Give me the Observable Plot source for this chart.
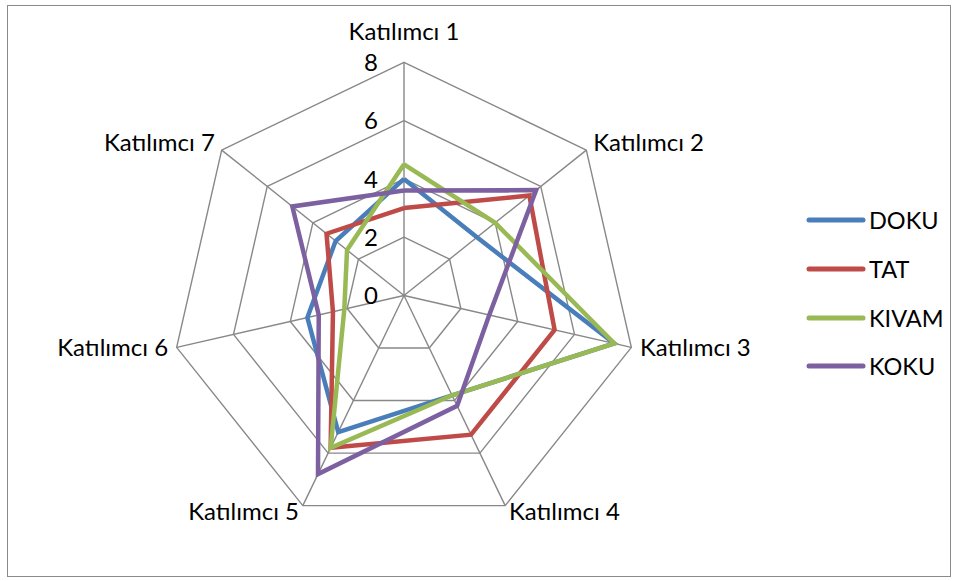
<!DOCTYPE html>
<html>
<head>
<meta charset="utf-8">
<script src="https://cdn.jsdelivr.net/npm/d3@7"></script>
<script src="https://cdn.jsdelivr.net/npm/@observablehq/plot@0.6"></script>
<style>
  body { margin: 0; background: #fff; }
  #chart { position: relative; width: 961px; height: 581px; font-family: Lato, "Noto Sans", sans-serif; }
  #chart svg.plot { position: absolute; left: 0; top: 0; }
  .frame { position: absolute; left: 7px; top: 5px; width: 944px; height: 572px; border: 1.5px solid #8a8a8a; box-sizing: border-box; }
  .legend { position: absolute; left: 806px; top: 196px; }
  .legend .row { display: flex; align-items: center; height: 48.7px; font-size: 23.5px; color: #000; }
  .legend svg { display: block; margin-right: 3px; }
</style>
</head>
<body>
<div id="chart"><div class="frame"></div></div>
<script>
// Participants (radar axes), clockwise from the top
const participants = ["Katılımcı 1", "Katılımcı 2", "Katılımcı 3", "Katılımcı 4", "Katılımcı 5", "Katılımcı 6", "Katılımcı 7"];

// Scores per sensory attribute
const doku  = [4.0, 3.2, 7.4, 3.8, 5.2, 3.4, 3.0];
const tat   = [3.0, 5.5, 5.3, 5.3, 5.8, 2.5, 3.4];
const kivam = [4.5, 4.0, 7.4, 3.8, 5.8, 2.1, 2.5];
const koku  = [3.6, 5.8, 3.0, 4.2, 6.8, 3.0, 4.9];

const seriesNames  = ["DOKU", "TAT", "KIVAM", "KOKU"];
const seriesValues = [doku, tat, kivam, koku];
const seriesColors = ["#4A7EBB", "#BE4B48", "#98B954", "#7D60A0"];

// Radial axis
const tickValues = [0, 2, 4, 6, 8];
const maxValue = 8;

const n = participants.length;
const angle = i => (i * 2 * Math.PI) / n;
const px = (v, i) => v * Math.sin(angle(i));
const py = (v, i) => v * Math.cos(angle(i));

// Closed heptagon rings for the grid
const rings = tickValues.filter(t => t > 0).flatMap(level =>
  d3.range(n + 1).map(k => ({level, x: px(level, k % n), y: py(level, k % n)}))
);

// Spokes from the centre to the outer ring
const spokes = participants.map((p, i) => ({x2: px(maxValue, i), y2: py(maxValue, i)}));

// Closed polygon for each series
const seriesPoints = seriesNames.flatMap((name, s) =>
  d3.range(n + 1).map(k => ({series: name, x: px(seriesValues[s][k % n], k % n), y: py(seriesValues[s][k % n], k % n)}))
);

// Axis labels just outside the outer ring
const labelRadius = 8.3;
const labels = participants.map((p, i) => {
  const s = Math.sin(angle(i));
  return {text: p, i, x: px(labelRadius, i), y: py(labelRadius, i), side: s > 0.1 ? "start" : s < -0.1 ? "end" : "middle"};
});

const cx = 403.5, cy = 295, unit = 29.15;

const fontFamily = "Lato, 'Noto Sans', sans-serif";
const fontSize = 24;

const chart = Plot.plot({
  width: 961,
  height: 581,
  margin: 0,
  x: {domain: [-maxValue, maxValue], range: [cx - maxValue * unit, cx + maxValue * unit], axis: null},
  y: {domain: [-maxValue, maxValue], range: [cy + maxValue * unit, cy - maxValue * unit], axis: null},
  color: {domain: seriesNames, range: seriesColors},
  style: {background: "transparent", fontFamily, overflow: "visible"},
  marks: [
    Plot.line(rings, {x: "x", y: "y", z: "level", stroke: "#888888", strokeWidth: 1.4, strokeLinejoin: "miter"}),
    Plot.link(spokes, {x1: () => 0, y1: () => 0, x2: "x2", y2: "y2", stroke: "#888888", strokeWidth: 1.4}),
    Plot.text(tickValues, {x: () => 0, y: d => d, text: d => String(d), textAnchor: "end", dx: -26, dy: 1, fontSize, fill: "#000"}),
    Plot.line(seriesPoints, {x: "x", y: "y", z: "series", stroke: "series", strokeWidth: 4.5, strokeLinejoin: "miter", strokeMiterlimit: 4, strokeLinecap: "butt"}),
    Plot.text(labels.filter(d => d.side === "middle"), {x: "x", y: "y", text: "text", textAnchor: "middle", dy: -21, fontSize, fill: "#000"}),
    Plot.text(labels.filter(d => d.side === "start"), {x: "x", y: "y", text: "text", textAnchor: "start", dy: -1, fontSize, fill: "#000"}),
    Plot.text(labels.filter(d => d.side === "end"), {x: "x", y: "y", text: "text", textAnchor: "end", dy: -1, fontSize, fill: "#000"})
  ]
});
chart.classList.add("plot");
const root = document.getElementById("chart");
root.appendChild(chart);

// Legend with line swatches
const legend = document.createElement("div");
legend.className = "legend";
seriesNames.forEach((name, s) => {
  const row = document.createElement("div");
  row.className = "row";
  row.innerHTML = `<svg width="60" height="10"><line x1="3" y1="5" x2="57" y2="5" stroke="${seriesColors[s]}" stroke-width="5" stroke-linecap="round"/></svg><span>${name}</span>`;
  legend.appendChild(row);
});
root.appendChild(legend);
</script>
</body>
</html>
